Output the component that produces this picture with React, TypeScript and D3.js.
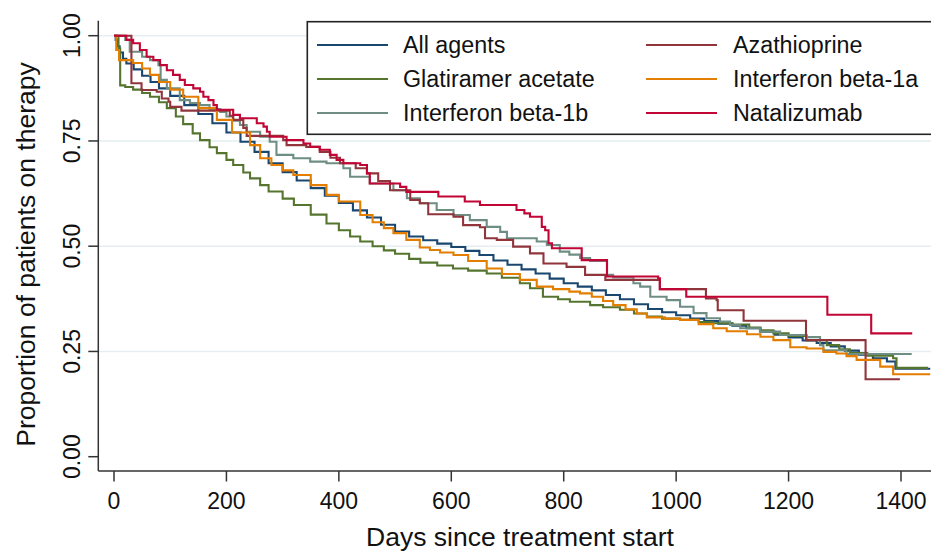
import React from "react";
import * as d3 from "d3";

const xTicks = [0, 200, 400, 600, 800, 1000, 1200, 1400];
const yTicks = [0, 0.25, 0.5, 0.75, 1];
const yTickLabels = ["0.00", "0.25", "0.50", "0.75", "1.00"];
const gridTicks = [0.25, 0.5, 0.75, 1];

const seriesNames = ["All agents", "Glatiramer acetate", "Interferon beta-1b", "Azathioprine", "Interferon beta-1a", "Natalizumab"];
const seriesColors = ["#1a476f", "#55752f", "#6e8e84", "#90353b", "#e37e00", "#c10534"];

const allAgents: [number, number][] = [[0,1],[3,0.99],[6,0.975],[10,0.96],[16,0.945],[22,0.934],[35,0.92],[50,0.905],[65,0.89],[80,0.875],[100,0.857],[125,0.835],[150,0.814],[175,0.792],[200,0.77],[225,0.748],[250,0.724],[275,0.697],[300,0.676],[325,0.656],[350,0.638],[375,0.62],[400,0.603],[425,0.585],[450,0.568],[475,0.551],[500,0.535],[525,0.523],[550,0.514],[575,0.506],[600,0.498],[625,0.489],[650,0.479],[675,0.466],[700,0.456],[725,0.445],[750,0.435],[775,0.423],[800,0.412],[825,0.404],[850,0.395],[875,0.384],[900,0.374],[925,0.362],[950,0.351],[975,0.343],[1000,0.336],[1025,0.328],[1050,0.322],[1075,0.316],[1100,0.311],[1125,0.305],[1150,0.297],[1175,0.29],[1200,0.283],[1225,0.276],[1250,0.27],[1275,0.262],[1300,0.252],[1325,0.242],[1350,0.234],[1375,0.226],[1390,0.209],[1452,0.209]];

const glatiramer: [number, number][] = [[0,1],[8,0.97],[11,0.882],[20,0.878],[34,0.872],[50,0.864],[64,0.855],[80,0.842],[94,0.828],[110,0.808],[123,0.79],[140,0.768],[153,0.752],[170,0.735],[183,0.721],[200,0.705],[212,0.693],[230,0.675],[242,0.661],[260,0.645],[275,0.63],[300,0.613],[320,0.598],[350,0.575],[378,0.554],[400,0.538],[420,0.523],[438,0.511],[460,0.5],[480,0.49],[500,0.482],[525,0.47],[545,0.461],[575,0.454],[603,0.447],[630,0.442],[663,0.435],[690,0.425],[722,0.412],[740,0.4],[763,0.38],[790,0.374],[811,0.368],[847,0.36],[870,0.355],[900,0.349],[925,0.34],[948,0.333],[975,0.328],[1007,0.325],[1040,0.32],[1066,0.317],[1100,0.314],[1130,0.307],[1150,0.3],[1173,0.293],[1200,0.287],[1232,0.277],[1268,0.265],[1290,0.255],[1309,0.246],[1340,0.24],[1386,0.234],[1392,0.211],[1448,0.211]];

const ifnBeta1b: [number, number][] = [[0,1],[20,0.99],[28,0.962],[50,0.95],[64,0.942],[79,0.93],[83,0.895],[94,0.875],[117,0.847],[135,0.84],[153,0.835],[170,0.826],[189,0.819],[200,0.808],[212,0.798],[224,0.788],[236,0.772],[260,0.76],[277,0.748],[289,0.717],[319,0.709],[349,0.701],[378,0.697],[408,0.685],[420,0.665],[455,0.649],[497,0.633],[521,0.614],[544,0.602],[574,0.586],[604,0.574],[633,0.562],[663,0.546],[687,0.534],[699,0.519],[752,0.511],[770,0.503],[793,0.487],[810,0.48],[829,0.472],[847,0.465],[877,0.432],[888,0.426],[924,0.412],[936,0.404],[954,0.38],[983,0.372],[1007,0.356],[1031,0.341],[1054,0.329],[1078,0.321],[1096,0.313],[1114,0.305],[1149,0.297],[1185,0.289],[1232,0.284],[1256,0.265],[1262,0.253],[1303,0.244],[1419,0.244]];

const azathioprine: [number, number][] = [[0,1],[31,0.887],[49,0.871],[76,0.867],[85,0.851],[97,0.843],[100,0.831],[120,0.822],[200,0.822],[206,0.81],[212,0.8],[230,0.781],[236,0.762],[301,0.752],[307,0.74],[342,0.736],[366,0.724],[385,0.71],[402,0.697],[430,0.685],[450,0.673],[470,0.655],[491,0.633],[527,0.61],[544,0.602],[559,0.576],[604,0.57],[621,0.55],[651,0.545],[660,0.519],[681,0.515],[710,0.499],[740,0.483],[764,0.459],[805,0.451],[838,0.432],[874,0.42],[968,0.42],[971,0.398],[1051,0.398],[1053,0.376],[1072,0.372],[1074,0.348],[1119,0.348],[1120,0.323],[1229,0.323],[1231,0.277],[1336,0.277],[1337,0.184],[1398,0.184]];

const ifnBeta1a: [number, number][] = [[0,1],[4,0.966],[9,0.942],[34,0.935],[50,0.922],[64,0.907],[80,0.89],[100,0.872],[123,0.855],[150,0.828],[183,0.8],[210,0.77],[242,0.74],[260,0.709],[280,0.693],[300,0.68],[319,0.669],[350,0.645],[378,0.622],[400,0.606],[438,0.574],[460,0.557],[480,0.543],[497,0.531],[520,0.515],[544,0.497],[562,0.491],[580,0.485],[604,0.479],[630,0.465],[663,0.447],[690,0.434],[722,0.42],[752,0.404],[781,0.398],[810,0.392],[829,0.388],[850,0.38],[870,0.37],[888,0.36],[910,0.35],[930,0.34],[948,0.331],[980,0.328],[1007,0.325],[1040,0.315],[1066,0.305],[1090,0.298],[1126,0.291],[1150,0.285],[1173,0.277],[1203,0.26],[1232,0.257],[1262,0.249],[1285,0.245],[1303,0.239],[1321,0.23],[1363,0.214],[1386,0.196],[1452,0.196]];

const natalizumab: [number, number][] = [[0,1],[20,1],[22,0.99],[34,0.982],[46,0.966],[58,0.95],[70,0.942],[82,0.93],[94,0.918],[105,0.907],[117,0.895],[126,0.883],[141,0.875],[153,0.867],[159,0.855],[168,0.847],[177,0.835],[183,0.824],[206,0.824],[212,0.812],[224,0.804],[248,0.804],[254,0.792],[266,0.784],[272,0.772],[277,0.76],[301,0.76],[307,0.752],[331,0.752],[337,0.744],[349,0.736],[366,0.729],[384,0.717],[396,0.705],[408,0.697],[438,0.693],[450,0.673],[455,0.649],[509,0.641],[520,0.629],[574,0.629],[577,0.618],[621,0.618],[624,0.606],[648,0.606],[651,0.598],[713,0.598],[716,0.586],[730,0.578],[740,0.57],[758,0.57],[761,0.546],[767,0.538],[773,0.507],[779,0.495],[829,0.495],[832,0.467],[874,0.467],[877,0.428],[968,0.424],[971,0.398],[1016,0.398],[1018,0.38],[1268,0.38],[1269,0.337],[1346,0.337],[1347,0.293],[1420,0.293]];

const seriesData = [allAgents, glatiramer, ifnBeta1b, azathioprine, ifnBeta1a, natalizumab];
const drawOrder = [0, 1, 2, 3, 4, 5];

export default function App() {
  const W = 931, H = 552;
  const x = d3.scaleLinear().domain([0, 1400]).range([114, 901]);
  const y = d3.scaleLinear().domain([0, 1]).range([456.7, 35.7]);
  const axisLeft = 98.3, axisBottom = 471, axisTop = 20.7;
  const line = d3.line<[number, number]>().x(d => x(d[0])).y(d => y(d[1])).curve(d3.curveStepAfter);
  const font = "'Liberation Sans', Arial, Helvetica, sans-serif";
  const legendRows = [45, 79, 113];
  const legendCols = [{ x1: 317, x2: 388, tx: 403 }, { x1: 646, x2: 717, tx: 733 }];

  return (
    <svg width={W} height={H} style={{ position: "absolute", left: 0, top: 0, background: "#fff" }} fontFamily={font}>
      <rect x={0} y={0} width={W} height={H} fill="#fff" />
      {gridTicks.map(t => (
        <line key={t} x1={axisLeft} x2={W} y1={y(t)} y2={y(t)} stroke="#e5eef1" strokeWidth={1.6} />
      ))}
      {drawOrder.map(i => (
        <path key={i} d={line(seriesData[i]) || ""} fill="none" stroke={seriesColors[i]} strokeWidth={2.1} />
      ))}
      <line x1={axisLeft} x2={axisLeft} y1={axisTop} y2={axisBottom} stroke="#333" strokeWidth={1.5} />
      <line x1={axisLeft} x2={W} y1={axisBottom} y2={axisBottom} stroke="#333" strokeWidth={1.5} />
      {yTicks.map((t, i) => (
        <g key={t}>
          <line x1={axisLeft - 10} x2={axisLeft} y1={y(t)} y2={y(t)} stroke="#333" strokeWidth={1.5} />
          <text transform={`translate(80,${y(t)}) rotate(-90)`} textAnchor="middle" fontSize={23} fill="#111">{yTickLabels[i]}</text>
        </g>
      ))}
      {xTicks.map(t => (
        <g key={t}>
          <line x1={x(t)} x2={x(t)} y1={axisBottom} y2={axisBottom + 10.5} stroke="#333" strokeWidth={1.5} />
          <text x={x(t)} y={509} textAnchor="middle" fontSize={23} fill="#111">{t}</text>
        </g>
      ))}
      <text x={520} y={545.5} textAnchor="middle" fontSize={26.5} fill="#111">Days since treatment start</text>
      <text transform={`translate(35,254.5) rotate(-90)`} textAnchor="middle" fontSize={26.5} fill="#111">Proportion of patients on therapy</text>
      <rect x={307.3} y={21.7} width={640} height={112.6} fill="#fff" stroke="#222" strokeWidth={1.6} />
      {seriesNames.map((name, i) => {
        const col = legendCols[i < 3 ? 0 : 1];
        const ry = legendRows[i % 3];
        return (
          <g key={name}>
            <line x1={col.x1} x2={col.x2} y1={ry} y2={ry} stroke={seriesColors[i]} strokeWidth={2.1} />
            <text x={col.tx} y={ry + 8.3} fontSize={23.3} fill="#111">{name}</text>
          </g>
        );
      })}
    </svg>
  );
}
